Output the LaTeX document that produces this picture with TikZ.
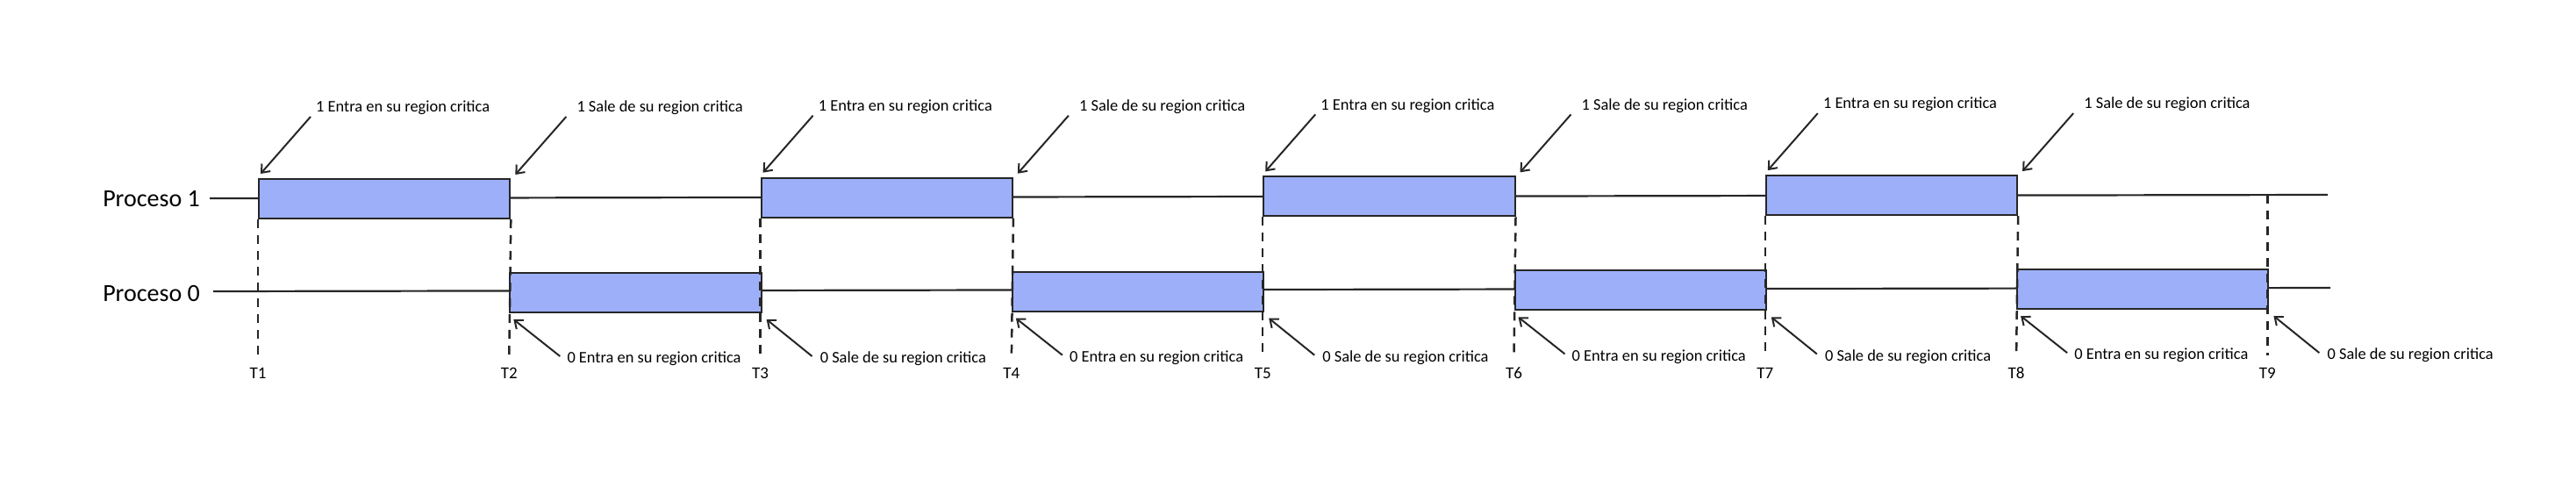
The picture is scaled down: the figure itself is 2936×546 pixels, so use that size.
\documentclass[tikz,border=0pt]{standalone}
\usepackage{fontspec}
\setmainfont{Carlito}
\usetikzlibrary{arrows.meta}
\definecolor{critblue}{RGB}{157,175,249}
\definecolor{inkgray}{RGB}{38,38,38}

\begin{document}
\begin{tikzpicture}[x=1pt,y=-1pt,
    rowline/.style={draw=inkgray,line width=2.2pt},
    guide/.style={draw=inkgray,line width=2.5pt,dash pattern=on 10pt off 8pt},
    critbox/.style={draw=inkgray,line width=2pt,fill=critblue,minimum width=286.3pt,
      minimum height=45pt,inner sep=0pt,anchor=north west},
    procname/.style={font=\fontsize{28}{32}\selectfont,inner sep=0pt,anchor=east},
    tick/.style={font=\fontsize{19}{22}\selectfont,inner sep=0pt},
    note/.style={font=\fontsize{18.4}{22}\selectfont,inner sep=0pt,anchor=west},
    ptr/.style={draw=inkgray,line width=2pt,-{Straight Barb[length=8pt,width=13pt]}}]
	\useasboundingbox (0,0) rectangle (2936,546);
	% procesos y lineas de tiempo
	\node[procname] (p1) at (228,227) {Proceso 1};
	\node[procname] (p0) at (228,335) {Proceso 0};
	\coordinate (p1end) at (2653,222);
	\coordinate (p0end) at (2656,328);
	\draw[rowline] (p1.east) ++(11,-1) -- (p1end);
	\draw[rowline] (p0.east) ++(15,-3) -- (p0end);
	% instantes T1..T9
	\foreach \i in {1,...,9}{
		\pgfmathsetmacro{\tx}{294+(\i-1)*286.3}
		\node[tick] (t\i) at (\tx,425) {T\i};
		\coordinate (g\i) at (\tx,405);}
	% regiones criticas
	\foreach \k in {1,...,4}{
		\pgfmathsetmacro{\xa}{294+(2*\k-2)*286.3}
		\pgfmathsetmacro{\xb}{\xa+286.3}
		\pgfmathsetmacro{\ya}{203-1.3*(\k-1)}
		\pgfmathsetmacro{\yb}{310-1.3*(\k-1)}
		\node[critbox] (b1-\k) at (\xa,\ya) {};
		\node[critbox] (b0-\k) at (\xb,\yb) {};}
	\foreach \k [evaluate=\k as \i using int(2*\k-1), evaluate=\k as \j using int(2*\k)] in {1,...,4}{
		\draw[guide] (b1-\k.south west) -- (g\i);
		\draw[guide] (b1-\k.south east) -- (g\j);}
	\draw[guide] (p1end -| g9) -- (g9);
	% avisos de entrada y salida
	\foreach \k in {1,...,4}{
		\node[note] (e1-\k) at ([shift={(66,-80)}]b1-\k.north west) {1 Entra en su region critica};
		\node[note] (s1-\k) at ([shift={(75,-80)}]b1-\k.north east) {1 Sale de su region critica};
		\node[note] (e0-\k) at ([shift={(66,52)}]b0-\k.south west) {0 Entra en su region critica};
		\node[note] (s0-\k) at ([shift={(66,52)}]b0-\k.south east) {0 Sale de su region critica};
		\draw[ptr] ([shift={(-6,10)}]e1-\k.west) -- ([shift={(3,-5)}]b1-\k.north west);
		\draw[ptr] ([shift={(-12,10)}]s1-\k.west) -- ([shift={(5,-4)}]b1-\k.north east);
		\draw[ptr] ([shift={(-8,-3)}]e0-\k.west) -- ([shift={(5,7)}]b0-\k.south west);
		\draw[ptr] ([shift={(-9,-3)}]s0-\k.west) -- ([shift={(5,7)}]b0-\k.south east);}
\end{tikzpicture}
\end{document}
